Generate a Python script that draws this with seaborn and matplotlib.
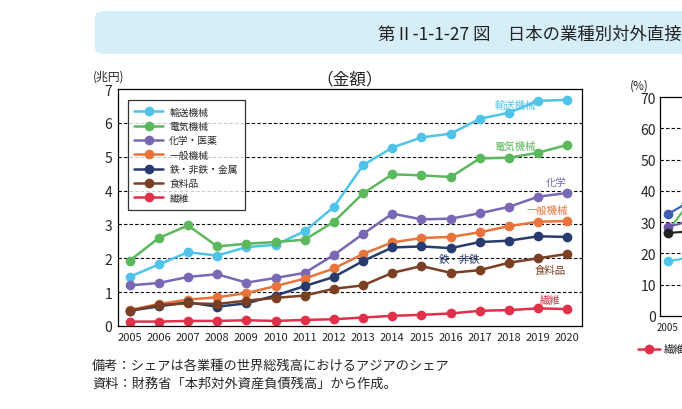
import matplotlib
matplotlib.use("Agg")
import matplotlib.pyplot as plt
from matplotlib.patches import FancyBboxPatch
import seaborn as sns
import pandas as pd

sns.set_theme(style="white")
plt.rcParams['font.family'] = ['Noto Sans CJK JP', 'DejaVu Sans']

years = list(range(2005, 2021))
series_names = ["輸送機械", "電気機械", "化学・医薬", "一般機械", "鉄・非鉄・金属", "食料品", "繊維"]
yusou = [1.45,1.82,2.18,2.08,2.33,2.4,2.8,3.52,4.75,5.27,5.57,5.68,6.12,6.3,6.65,6.68]
denki = [1.93,2.6,2.97,2.35,2.43,2.48,2.55,3.08,3.92,4.48,4.45,4.4,4.95,4.97,5.12,5.35]
kagaku = [1.2,1.27,1.45,1.53,1.28,1.42,1.57,2.1,2.72,3.32,3.15,3.17,3.33,3.52,3.82,3.93]
ippan = [0.47,0.65,0.78,0.85,0.97,1.18,1.4,1.7,2.13,2.47,2.6,2.63,2.77,2.95,3.08,3.1]
tetsu = [0.45,0.58,0.7,0.57,0.67,0.9,1.18,1.45,1.92,2.32,2.35,2.3,2.48,2.52,2.65,2.63]
shokuryo = [0.45,0.62,0.67,0.65,0.75,0.83,0.9,1.1,1.2,1.57,1.77,1.57,1.65,1.87,2.0,2.13]
seni = [0.13,0.13,0.15,0.15,0.17,0.15,0.18,0.2,0.25,0.3,0.33,0.37,0.45,0.47,0.52,0.5]
colors = ["#4FC3E8", "#5CB85C", "#7B68B5", "#E8743B", "#283B6E", "#7B3F24", "#E0304A"]

# right panel (share, %), only the start is visible
share_years = [2005, 2006]
share_vals = {"A": [32.5, 36], "B": [27, 35], "C": [28.5, 30], "D": [26.5, 27], "E": [17.5, 18.5]}
share_colors = ["#3F5FB5", "#5CB85C", "#6A55A8", "#222222", "#4FC3E8"]

fig = plt.figure(figsize=(6.82, 4.10), dpi=100)

# banner
fig.patches.append(FancyBboxPatch((95/682, 1-55/410), 620/682, 43/410,
    boxstyle="round,pad=0,rounding_size=0.015", transform=fig.transFigure,
    facecolor="#D6EEF8", edgecolor="none"))
fig.text(378/682, 1-34/410, "第Ⅱ-1-1-27 図　日本の業種別対外直接投資残高", fontsize=12.5,
         va="center", ha="left", color="#222222")

ax = fig.add_axes([118/682, 1-327/410, 464/682, 237/410])
df = pd.DataFrame({"year": years * 7,
                   "value": yusou + denki + kagaku + ippan + tetsu + shokuryo + seni,
                   "series": sum([[n] * 16 for n in series_names], [])})
sns.lineplot(data=df, x="year", y="value", hue="series", hue_order=series_names,
             palette=colors, marker="o", markersize=7, markeredgewidth=0, linewidth=1.8, ax=ax)
ax.set_xlim(2004.6, 2020.5)
ax.set_ylim(0, 7)
ax.set_xticks(years)
ax.set_xticklabels([str(y) for y in years], fontsize=8)
ax.set_yticks(range(8))
ax.tick_params(axis='y', labelsize=10, length=0, pad=4)
ax.tick_params(axis='x', length=0, pad=4)
for y in range(1, 7):
    ax.axhline(y, color="black", linestyle=(0, (3, 2)), linewidth=0.8, zorder=0)
for s in ax.spines.values():
    s.set_color("black"); s.set_linewidth(0.9)
ax.set_xlabel(""); ax.set_ylabel("")
ax.set_title("（金額）", fontsize=12, pad=4)
ax.text(-0.055, 1.04, "(兆円)", transform=ax.transAxes, fontsize=8.5, ha="left")
leg = ax.legend(loc="upper left", bbox_to_anchor=(0.01, 0.975), fontsize=7, frameon=True,
                fancybox=False, edgecolor="black", borderpad=0.7, labelspacing=0.45,
                handlelength=3.0, handletextpad=0.6)
leg.get_frame().set_linewidth(0.9)

labels = [("輸送機械", 2018.2, 6.52, colors[0]), ("電気機械", 2018.2, 5.33, colors[1]),
          ("化学", 2019.6, 4.27, colors[2]), ("一般機械", 2019.3, 3.42, colors[3]),
          ("鉄・非鉄", 2016.3, 1.98, colors[4]), ("食料品", 2019.4, 1.65, colors[5]),
          ("繊維", 2019.4, 0.78, colors[6])]
for t, x, y, c in labels:
    ax.text(x, y, t, color=c, fontsize=7.5, ha="center", va="center")

fig.text(92/682, 1-366/410, "備考：シェアは各業種の世界総残高におけるアジアのシェア", fontsize=9.5, va="center")
fig.text(92/682, 1-384/410, "資料：財務省「本邦対外資産負債残高」から作成。", fontsize=9.5, va="center")

# right panel (cut off)
ax2 = fig.add_axes([660/682, 1-317/410, 300/682, 219/410])
for (k, v), c in zip(share_vals.items(), share_colors):
    ax2.plot(share_years, v, color=c, marker="o", markersize=7, markeredgewidth=0, linewidth=1.5)
ax2.set_xlim(2004.6, 2020.5)
ax2.set_ylim(0, 70)
ax2.set_yticks(range(0, 71, 10))
ax2.tick_params(axis='y', labelsize=10, length=0, pad=3)
ax2.set_xticks([2005]); ax2.set_xticklabels(["2005"], fontsize=7)
ax2.tick_params(axis='x', length=0, pad=4)
for y in range(10, 70, 10):
    ax2.axhline(y, color="black", linestyle=(0, (3, 2)), linewidth=0.8, zorder=0)
for s in ax2.spines.values():
    s.set_color("black"); s.set_linewidth(0.9)
ax2.text(-0.1, 1.04, "(%)", transform=ax2.transAxes, fontsize=8.5, ha="left")
fig.lines.append(plt.Line2D([638/682, 660/682], [1-350/410]*2, color=colors[6], lw=1.8,
                            transform=fig.transFigure))
fig.lines.append(plt.Line2D([649/682], [1-350/410], color=colors[6], marker="o", markersize=6,
                            transform=fig.transFigure))
fig.text(664/682, 1-350/410, "繊維", fontsize=7.5, va="center")

fig.savefig("out.png", dpi=100)
